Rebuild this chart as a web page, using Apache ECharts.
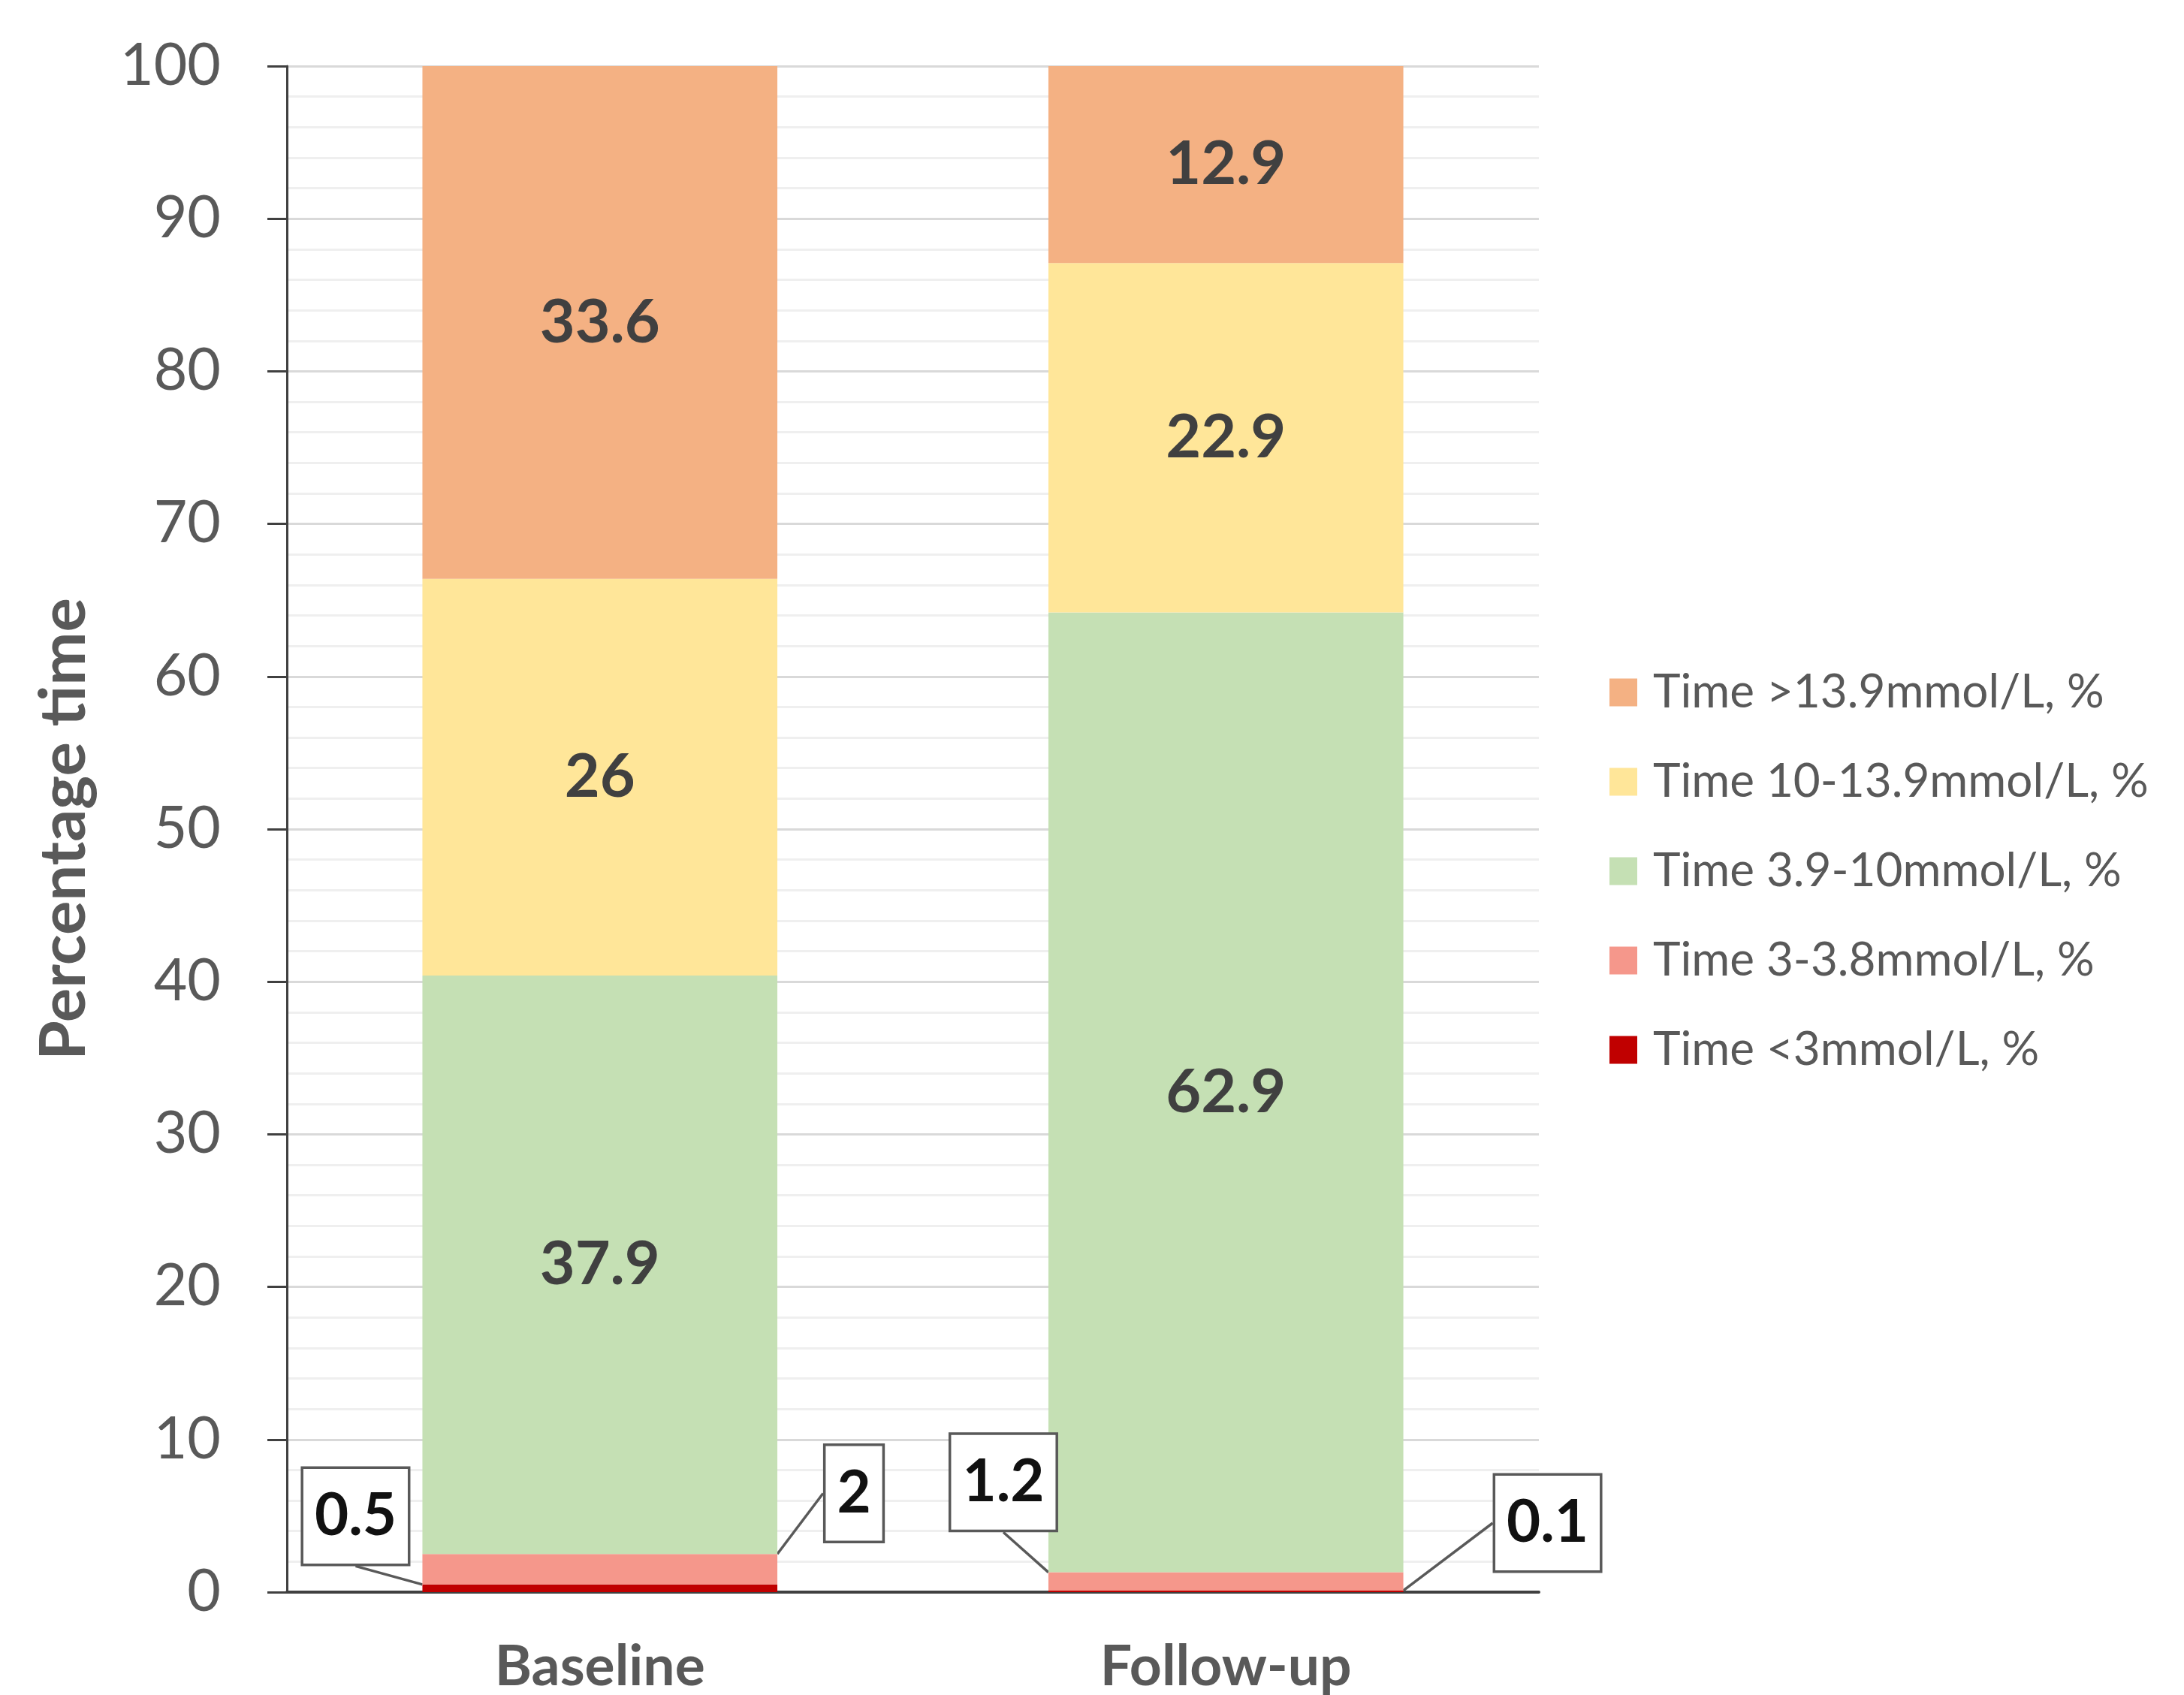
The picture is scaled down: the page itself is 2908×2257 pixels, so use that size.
<!DOCTYPE html>
<html>
<head>
<meta charset="utf-8">
<script src="https://cdn.jsdelivr.net/npm/echarts@6/dist/echarts.min.js"></script>
<style>
  html, body { margin: 0; padding: 0; background: #ffffff; }
  #chart { width: 2908px; height: 2257px; }
</style>
</head>
<body>
<div id="chart"></div>
<script>
// ---- Data ----
const categories = ['Baseline', 'Follow-up'];
const yTicks = [0, 10, 20, 30, 40, 50, 60, 70, 80, 90, 100];
const nameBelow3 = 'Time <3mmol/L, %';
const name3to38 = 'Time 3-3.8mmol/L, %';
const name39to10 = 'Time 3.9-10mmol/L, %';
const name10to139 = 'Time 10-13.9mmol/L, %';
const nameAbove139 = 'Time >13.9mmol/L, %';
const below3 = [0.5, 0.1];
const from3to38 = [2, 1.2];
const from39to10 = [37.9, 62.9];
const from10to139 = [26, 22.9];
const above139 = [33.6, 12.9];

// ---- Styling ----
const FONT = 'Lato';
const colors = {
  below3: '#C00000',
  from3to38: '#F5978B',
  from39to10: '#C5E0B4',
  from10to139: '#FFE699',
  above139: '#F4B183'
};

// callout placement: [dx, dy, anchorSide] relative to the bar segment edge
const calloutPlacement = {
  below3: [[-89, -96, 'left'], [192, -91, 'right']],
  from3to38: [[102, -101, 'right'], [-60, -132, 'left']]
};

function calloutLayout(key) {
  return function (params) {
    const p = calloutPlacement[key][params.dataIndex];
    const r = params.rect;
    const ex = p[2] === 'left' ? r.x : r.x + r.width;
    const ey = r.y + r.height / 2;
    return { x: ex + p[0], y: ey + p[1], align: 'center', verticalAlign: 'middle' };
  };
}

const calloutLabel = {
  show: true,
  position: 'inside',
  color: '#111111',
  fontFamily: FONT,
  fontWeight: 'bold',
  fontSize: 78,
  lineHeight: 80,
  backgroundColor: '#ffffff',
  borderColor: '#595959',
  borderWidth: 3.5,
  padding: [24, 15, 22, 15]
};

const bigLabel = {
  show: true,
  position: 'inside',
  color: '#404040',
  fontFamily: FONT,
  fontWeight: 'bold',
  fontSize: 81
};

const barWidth = '56.7%';

function barSeries(name, data, color, label, extra) {
  return Object.assign({
    name: name,
    type: 'bar',
    stack: 'total',
    barWidth: barWidth,
    data: data,
    itemStyle: { color: color },
    label: label,
    emphasis: { disabled: true }
  }, extra || {});
}

const chart = echarts.init(document.getElementById('chart'), null, { renderer: 'canvas' });

chart.setOption({
  animation: false,
  backgroundColor: '#ffffff',
  textStyle: { fontFamily: FONT },
  grid: { left: 382, right: 859, top: 88, bottom: 123, containLabel: false },
  legend: {
    orient: 'vertical',
    left: 2138,
    top: 886,
    itemWidth: 37,
    itemHeight: 37,
    itemGap: 57,
    icon: 'rect',
    data: [nameAbove139, name10to139, name39to10, name3to38, nameBelow3],
    textStyle: {
      fontFamily: FONT,
      fontSize: 62,
      lineHeight: 60,
      color: '#595959',
      padding: [0, 0, 0, 16]
    },
    selectedMode: false
  },
  xAxis: {
    type: 'category',
    data: categories,
    axisTick: { show: false },
    axisLine: { show: true, lineStyle: { color: '#404040', width: 4 } },
    axisLabel: {
      fontFamily: FONT,
      fontSize: 75,
      fontWeight: 'bold',
      color: '#595959',
      margin: 62
    }
  },
  yAxis: {
    type: 'value',
    min: yTicks[0],
    max: yTicks[yTicks.length - 1],
    interval: 10,
    name: 'Percentage time',
    nameLocation: 'middle',
    nameGap: 254,
    nameTextStyle: {
      fontFamily: FONT,
      fontSize: 85,
      fontWeight: 'bold',
      color: '#595959'
    },
    axisLine: { show: true, lineStyle: { color: '#404040', width: 3 } },
    axisTick: { show: true, length: 26, lineStyle: { color: '#404040', width: 3 } },
    axisLabel: {
      fontFamily: FONT,
      fontSize: 77,
      color: '#595959',
      margin: 88
    },
    splitLine: { show: true, lineStyle: { color: '#D9D9D9', width: 3 } },
    minorTick: { show: false, splitNumber: 5 },
    minorSplitLine: { show: true, lineStyle: { color: '#EFEFEF', width: 3 } }
  },
  series: [
    barSeries(nameBelow3, below3, colors.below3, calloutLabel, {
      labelLayout: calloutLayout('below3'),
      labelLine: { show: true, length2: 0, lineStyle: { color: '#595959', width: 3.5 } }
    }),
    barSeries(name3to38, from3to38, colors.from3to38, calloutLabel, {
      labelLayout: calloutLayout('from3to38'),
      labelLine: { show: true, length2: 0, lineStyle: { color: '#595959', width: 3.5 } }
    }),
    barSeries(name39to10, from39to10, colors.from39to10, bigLabel),
    barSeries(name10to139, from10to139, colors.from10to139, bigLabel),
    barSeries(nameAbove139, above139, colors.above139, bigLabel)
  ]
});
</script>
</body>
</html>
